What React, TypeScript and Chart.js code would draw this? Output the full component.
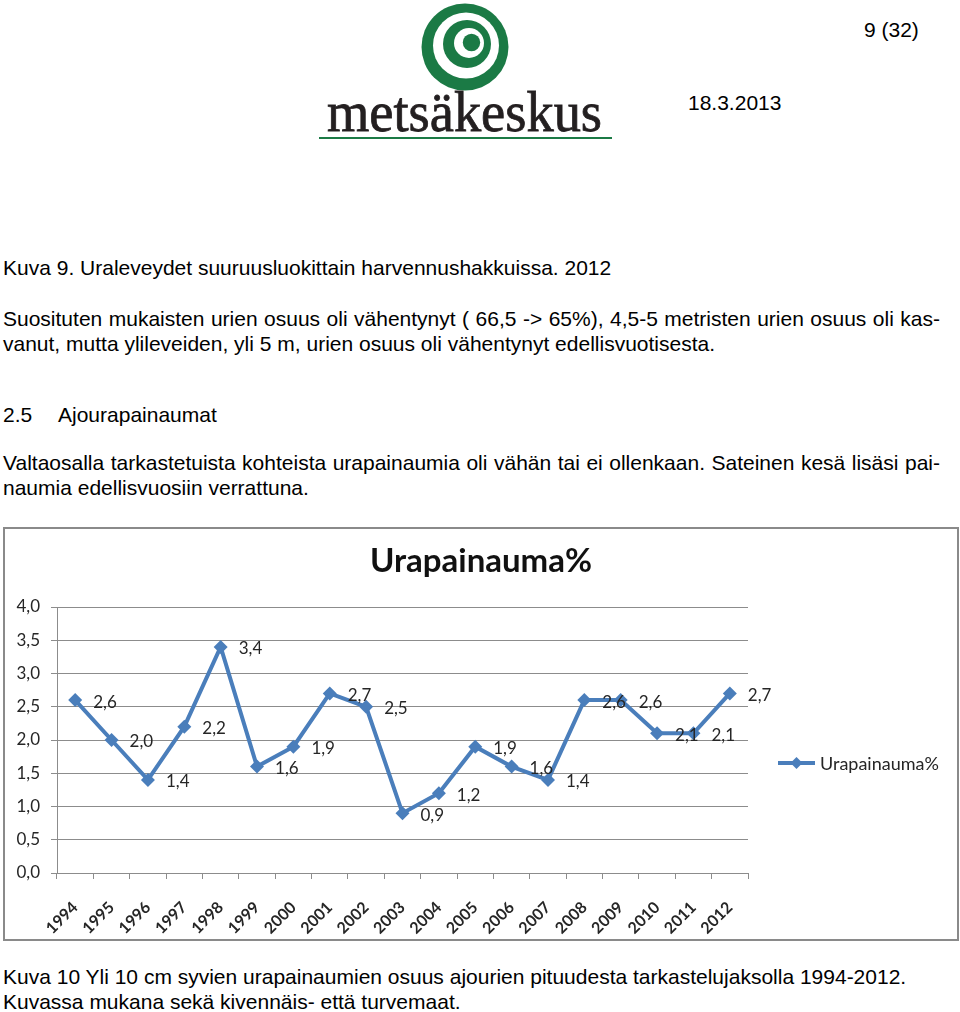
import React, { useEffect, useRef } from "react";
import { Chart, registerables } from "chart.js";

Chart.register(...registerables);

const years = ["1994","1995","1996","1997","1998","1999","2000","2001","2002","2003","2004","2005","2006","2007","2008","2009","2010","2011","2012"];
const urapainauma = [2.6, 2.0, 1.4, 2.2, 3.4, 1.6, 1.9, 2.7, 2.5, 0.9, 1.2, 1.9, 1.6, 1.4, 2.6, 2.6, 2.1, 2.1, 2.7];
const seriesName = "Urapainauma%";
const chartTitle = "Urapainauma%";
const yMin = 0;
const yMax = 4;
const yStep = 0.5;

const LINE_COLOR = "#4a7ebb";
const TEXT_COLOR = "#262626";
const GRID_COLOR = "#8c8c8c";
const FONT = "Lato";

const fmt = (v: number) => v.toFixed(1).replace(".", ",");

const overlayPlugin = {
  id: "overlay",
  afterDatasetsDraw(chart: any) {
    const ctx = chart.ctx;
    const meta = chart.getDatasetMeta(0);
    ctx.save();
    ctx.font = `17px ${FONT}`;
    ctx.fillStyle = TEXT_COLOR;
    ctx.textAlign = "left";
    ctx.textBaseline = "middle";
    meta.data.forEach((el: any, i: number) => {
      ctx.fillText(fmt(urapainauma[i]), el.x + 18, el.y + 2);
    });
    // legend
    const ca = chart.chartArea;
    const ly = ca.top + 156;
    const lx = ca.right + 30;
    ctx.strokeStyle = LINE_COLOR;
    ctx.lineWidth = 4;
    ctx.beginPath();
    ctx.moveTo(lx, ly);
    ctx.lineTo(lx + 37, ly);
    ctx.stroke();
    const cx = lx + 18.5;
    const r = 6;
    ctx.fillStyle = LINE_COLOR;
    ctx.beginPath();
    ctx.moveTo(cx, ly - r);
    ctx.lineTo(cx + r, ly);
    ctx.lineTo(cx, ly + r);
    ctx.lineTo(cx - r, ly);
    ctx.closePath();
    ctx.fill();
    ctx.font = `18px ${FONT}`;
    ctx.fillStyle = TEXT_COLOR;
    ctx.fillText(seriesName, lx + 42, ly + 1);
    ctx.restore();
  },
};

function UraChart() {
  const ref = useRef<HTMLCanvasElement | null>(null);
  useEffect(() => {
    if (!ref.current) return;
    const chart = new Chart(ref.current, {
      type: "line",
      data: {
        labels: years,
        datasets: [
          {
            label: seriesName,
            data: urapainauma,
            yAxisID: "y",
            borderColor: LINE_COLOR,
            backgroundColor: LINE_COLOR,
            borderWidth: 4,
            pointStyle: "rectRot",
            pointRadius: 7,
            pointBorderWidth: 0,
            pointBackgroundColor: LINE_COLOR,
            tension: 0,
          },
        ],
      },
      options: {
        responsive: false,
        animation: false,
        layout: { padding: 0 },
        plugins: {
          legend: { display: false },
          tooltip: { enabled: false },
          title: {
            display: true,
            text: chartTitle,
            color: "#111",
            font: { family: FONT, size: 33, weight: "bold", lineHeight: 1.2 },
            padding: { top: 13, bottom: 25.4 },
          },
        },
        scales: {
          x: {
            type: "category",
            offset: true,
            grid: {
              offset: true,
              drawOnChartArea: false,
              drawTicks: true,
              tickLength: 6,
              color: GRID_COLOR,
            },
            border: { display: true, color: GRID_COLOR },
            ticks: {
              minRotation: 45,
              maxRotation: 45,
              autoSkip: false,
              padding: 19,
              color: TEXT_COLOR,
              font: { family: FONT, size: 16, weight: "bold" },
            },
            afterFit: (s: any) => {
              s.height = 66;
            },
          },
          y: {
            position: "left",
            min: yMin,
            max: yMax,
            grid: { color: GRID_COLOR, tickLength: 6 },
            border: { display: true, color: GRID_COLOR },
            ticks: {
              stepSize: yStep,
              padding: 11,
              color: TEXT_COLOR,
              font: { family: FONT, size: 17 },
              callback: (v: any) => fmt(Number(v)),
            },
            afterFit: (s: any) => {
              s.width = 52;
            },
          },
          legendSpace: {
            type: "linear",
            position: "right",
            display: true,
            grid: { display: false, drawTicks: false },
            border: { display: false },
            ticks: { display: false },
            afterFit: (s: any) => {
              s.width = 209;
            },
          },
        },
      },
      plugins: [overlayPlugin],
    } as any);
    return () => chart.destroy();
  }, []);
  return <canvas ref={ref} width={952} height={410} style={{ display: "block" }} />;
}

const txt: React.CSSProperties = {
  position: "absolute",
  fontSize: "21px",
  lineHeight: "20px",
  fontFamily: "'Liberation Sans', Arial, sans-serif",
  color: "#000",
  whiteSpace: "nowrap",
};

const just: React.CSSProperties = {
  ...txt,
  width: 937,
  whiteSpace: "normal",
  textAlign: "justify",
  textAlignLast: "justify" as any,
};

const B = 17.3;

export default function App() {
  const green = "#1b7a45";
  return (
    <div style={{ position: "absolute", left: 0, top: 0, width: 960, height: 1012, background: "#fff", overflow: "hidden" }}>
      <div style={{ ...txt, left: 864, top: 37 - B }}>9 (32)</div>
      <svg width={960} height={150} style={{ position: "absolute", left: 0, top: 0 }}>
        <circle cx={465} cy={47} r={43.5} fill={green} />
        <circle cx={466} cy={45.5} r={33} fill="#fff" />
        <circle cx={467} cy={44} r={24} fill={green} />
        <circle cx={469} cy={43} r={15} fill="#fff" />
        <circle cx={471.5} cy={42.5} r={8.7} fill={green} />
        <text
          x={327}
          y={131}
          textLength={275}
          lengthAdjust="spacingAndGlyphs"
          fontFamily="'Liberation Serif', serif"
          fontSize={56}
          fill="#231f20"
          stroke="#231f20"
          strokeWidth={0.8}
        >
          metsäkeskus
        </text>
        <rect x={319} y={137} width={293} height={2} fill={green} />
      </svg>
      <div style={{ ...txt, left: 688, top: 110 - B }}>18.3.2013</div>

      <div style={{ ...txt, left: 3, top: 275 - B }}>Kuva 9. Uraleveydet suuruusluokittain harvennushakkuissa. 2012</div>
      <div style={{ ...just, left: 3, top: 326 - B }}>
        Suosituten mukaisten urien osuus oli vähentynyt ( 66,5 -&gt; 65%), 4,5-5 metristen urien osuus oli kas-
      </div>
      <div style={{ ...txt, left: 3, top: 351 - B }}>vanut, mutta ylileveiden, yli 5 m, urien osuus oli vähentynyt edellisvuotisesta.</div>
      <div style={{ ...txt, left: 3, top: 422 - B }}>2.5</div>
      <div style={{ ...txt, left: 58, top: 422 - B }}>Ajourapainaumat</div>
      <div style={{ ...just, left: 3, top: 470.5 - B }}>
        Valtaosalla tarkastetuista kohteista urapainaumia oli vähän tai ei ollenkaan. Sateinen kesä lisäsi pai-
      </div>
      <div style={{ ...txt, left: 3, top: 495.5 - B }}>naumia edellisvuosiin verrattuna.</div>

      <div
        style={{
          position: "absolute",
          left: 3,
          top: 527,
          width: 956,
          height: 414,
          border: "2px solid #8a8a8a",
          boxSizing: "border-box",
          background: "#fff",
        }}
      >
        <UraChart />
      </div>

      <div style={{ ...txt, left: 3, top: 984 - B }}>Kuva 10 Yli 10 cm syvien urapainaumien osuus ajourien pituudesta tarkastelujaksolla 1994-2012.</div>
      <div style={{ ...txt, left: 3, top: 1009 - B }}>Kuvassa mukana sekä kivennäis- että turvemaat.</div>
    </div>
  );
}
